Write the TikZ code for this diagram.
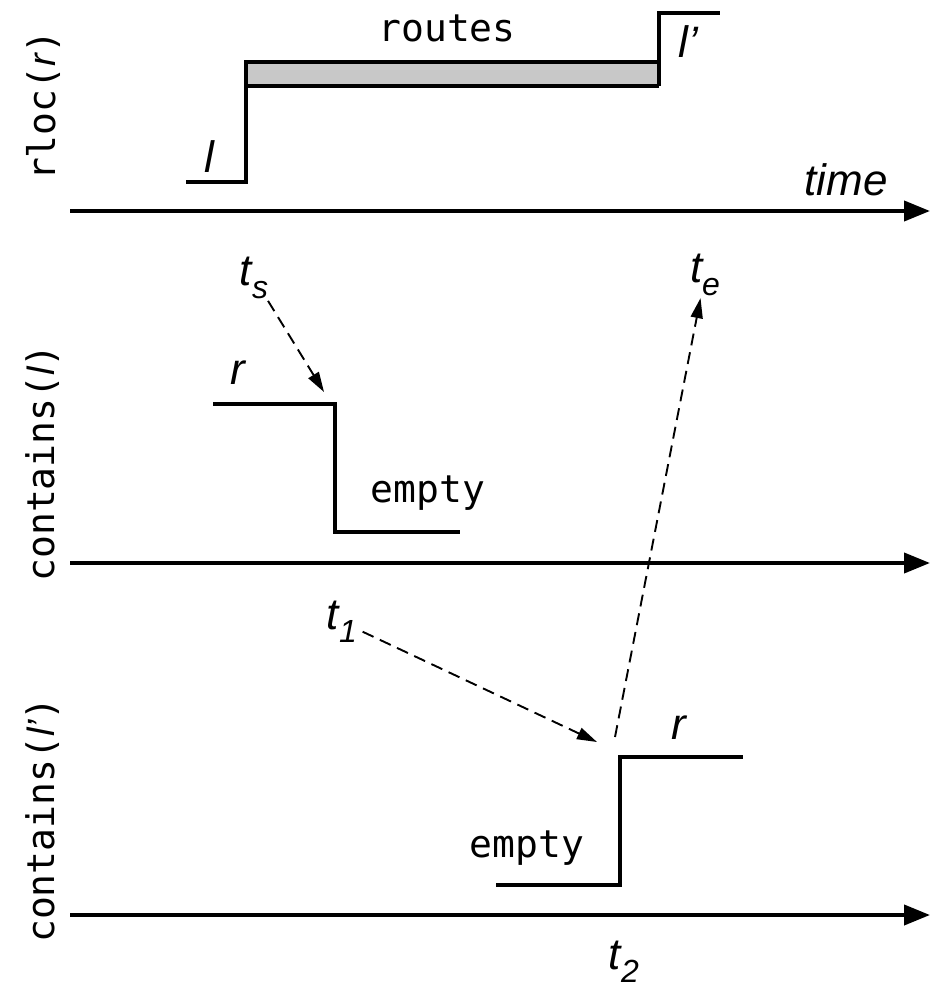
\documentclass[tikz,border=0pt]{standalone}
\usepackage{fontspec}
\setmainfont{Liberation Sans}
\setmonofont{DejaVu Sans Mono}
\usetikzlibrary{arrows.meta}
\definecolor{boxgrey}{RGB}{200,200,200}
\begin{document}
\begin{tikzpicture}[x=1pt,y=-1pt,
  sig/.style={line width=3.5pt, line join=miter, line cap=butt},
  axis/.style={line width=4pt, -{Triangle[length=26pt,width=20pt]}},
  dasharrow/.style={line width=1.9pt, dash pattern=on 12pt off 7pt, -{Triangle[length=20pt,width=12pt]}},
  it/.style={font=\fontsize{44}{44}\selectfont\itshape, inner sep=0pt},
  mono/.style={font=\fontsize{38}{38}\selectfont\ttfamily, inner sep=0pt},
  ]
\useasboundingbox (0,0) rectangle (931,992);
% axes
\coordinate (a1s) at (70,211);  \coordinate (a1e) at (930,211);
\coordinate (a2s) at (70,563);  \coordinate (a2e) at (930,563);
\coordinate (a3s) at (70,915);  \coordinate (a3e) at (930,915);
\draw[axis] (a1s) -- (a1e);
\draw[axis] (a2s) -- (a2e);
\draw[axis] (a3s) -- (a3e);
% axis labels
\node[mono, rotate=90] (lab1) at (43,106) {rloc({\rmfamily\itshape r})};
\node[mono, rotate=90] (lab2) at (43,463) {contains({\rmfamily\itshape l})};
\node[mono, rotate=90] (lab3) at (43,820) {contains({\rmfamily\itshape l’})};
% top signal
\fill[boxgrey] (246,62) rectangle (659,86);
\draw[sig] (186,182) -- (246,182) -- (246,62) -- (659,62);
\draw[sig] (246,86) -- (659,86);
\draw[sig] (659,86) -- (659,13) -- (720,13);
\node[it] (l) at (209,157) {l};
\node[it] (lp) at (688,42) {l’};
\node[mono] (routes) at (447,28) {routes};
\node[it] (time) at (846,180) {time};
% middle signal
\draw[sig] (213,404) -- (335,404) -- (335,532) -- (460,532);
\node[it] (r1) at (238,373) {r};
\node[mono] (empty1) at (428,493) {empty};
% bottom signal
\draw[sig] (496,885) -- (620,885) -- (620,757) -- (743,757);
\node[it] (r2) at (679,728) {r};
\node[mono] (empty2) at (527,848) {empty};
% time labels
\node[it] (ts) at (254,278) {t\raisebox{-0.3em}{\fontsize{32}{32}\selectfont s}};
\node[it] (te) at (705,275) {t\raisebox{-0.3em}{\fontsize{32}{32}\selectfont e}};
\node[it] (t1) at (342,622) {t\raisebox{-0.3em}{\fontsize{32}{32}\selectfont 1}};
\node[it] (t2) at (624,962) {t\raisebox{-0.3em}{\fontsize{32}{32}\selectfont 2}};
% dashed arrows
\coordinate (c1) at (324,392);
\coordinate (c3) at (597,742);
\coordinate (c2) at (615,737);
\draw[dasharrow, shorten <=2pt] (ts) -- (c1);
\draw[dasharrow, shorten <=6pt] (t1) -- (c3);
\draw[dasharrow, shorten >=2pt] (c2) -- (te);
\end{tikzpicture}
\end{document}
